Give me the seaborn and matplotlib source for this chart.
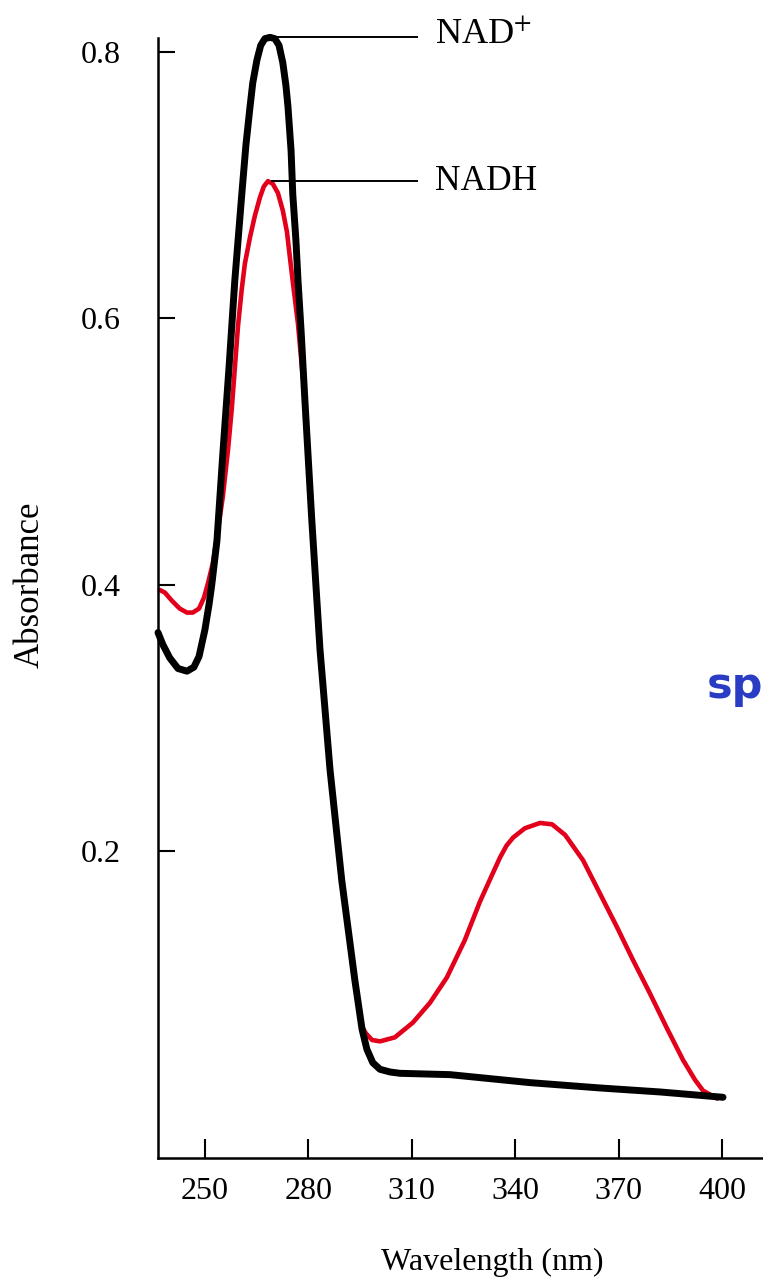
import numpy as np
import pandas as pd
import matplotlib
matplotlib.use('Agg')
import matplotlib.pyplot as plt
import seaborn as sns

# NAD+ absorbance spectrum
nad_wl = [236.4, 237.8, 239.8, 242.2, 244.8, 246.8, 248.3, 250.0, 251.2, 252.0, 253.5,
          255.2, 257.0, 258.7, 260.7, 261.9, 263.1, 263.9, 265.1, 266.2, 267.4, 268.9,
          270.3, 271.5, 272.6, 273.5, 274.1, 275.0, 275.5, 276.4, 277.0, 277.9, 279.0,
          281.0, 283.4, 286.3, 289.7, 293.5, 295.6, 297.0, 298.7, 300.8, 303.7, 306.6,
          321.1, 344.3, 364.6, 382.0, 400.3]
nad_abs = [0.364, 0.355, 0.345, 0.337, 0.335, 0.338, 0.346, 0.366, 0.385, 0.400, 0.433,
           0.498, 0.563, 0.629, 0.693, 0.730, 0.759, 0.777, 0.794, 0.805, 0.810, 0.811,
           0.810, 0.805, 0.792, 0.775, 0.759, 0.726, 0.693, 0.659, 0.629, 0.591, 0.539,
           0.449, 0.351, 0.261, 0.178, 0.103, 0.066, 0.051, 0.041, 0.036, 0.034, 0.033,
           0.032, 0.026, 0.022, 0.019, 0.015]

# NADH absorbance spectrum
nadh_wl = [236.9, 238.4, 240.4, 242.7, 244.8, 246.5, 248.3, 249.7, 250.9, 252.3, 253.8,
           255.2, 256.7, 257.8, 259.6, 260.7, 261.6, 263.1, 264.5, 266.0, 267.1, 268.3,
           269.7, 271.2, 272.6, 273.8, 274.7, 275.8, 277.0, 279.0, 281.0, 283.4, 286.3,
           289.7, 293.5, 295.6, 296.7, 298.5, 300.8, 305.1, 310.3, 315.3, 320.2, 325.4,
           329.8, 333.3, 335.6, 337.5, 339.4, 342.8, 347.2, 350.7, 354.5, 359.7, 364.6,
           369.5, 374.2, 379.1, 384.0, 388.7, 392.2, 394.5, 398.6]
nadh_abs = [0.396, 0.394, 0.388, 0.382, 0.379, 0.379, 0.382, 0.390, 0.401, 0.416, 0.441,
            0.466, 0.501, 0.532, 0.594, 0.622, 0.641, 0.661, 0.677, 0.691, 0.699, 0.703,
            0.701, 0.694, 0.681, 0.665, 0.645, 0.621, 0.596, 0.539, 0.449, 0.351, 0.261,
            0.178, 0.103, 0.068, 0.063, 0.058, 0.057, 0.060, 0.071, 0.086, 0.105, 0.133,
            0.162, 0.182, 0.195, 0.204, 0.210, 0.217, 0.221, 0.220, 0.212, 0.193, 0.168,
            0.143, 0.118, 0.093, 0.067, 0.043, 0.028, 0.020, 0.014]

x_ticks = [250, 280, 310, 340, 370, 400]
y_ticks = [0.2, 0.4, 0.6, 0.8]

sns.set_theme(style='ticks')
plt.rcParams['font.family'] = ['Liberation Serif', 'DejaVu Serif']
plt.rcParams['mathtext.fontset'] = 'stix'
plt.rcParams['text.color'] = 'black'
plt.rcParams['axes.labelcolor'] = 'black'

fig = plt.figure(figsize=(7.63, 12.83), dpi=100)
ax = fig.add_axes([158 / 763, 125 / 1283, 605 / 763, 1120 / 1283])

nad = pd.DataFrame({'wl': nad_wl, 'abs': nad_abs})
nadh = pd.DataFrame({'wl': nadh_wl, 'abs': nadh_abs})

sns.lineplot(data=nadh, x='wl', y='abs', ax=ax, color='#e3001b', linewidth=3.3,
             sort=False, estimator=None)
sns.lineplot(data=nad, x='wl', y='abs', ax=ax, color='black', linewidth=5.0,
             sort=False, estimator=None)
for ln in ax.lines:
    ln.set_clip_on(False)
    ln.set_solid_joinstyle('round')
    ln.set_solid_capstyle('round')

ax.set_xlim(236.4, 411.9)
ax.set_ylim(-0.0306, 0.8105)
ax.set_xticks(x_ticks)
ax.set_yticks(y_ticks)
ax.set_yticklabels([f'{v:.1f}' for v in y_ticks])

sns.despine(ax=ax)
for s in ['left', 'bottom']:
    ax.spines[s].set_linewidth(1.8)
    ax.spines[s].set_color('black')
ax.tick_params(axis='x', direction='in', length=14, width=1.5, pad=14, labelsize=23,
               colors='black')
ax.tick_params(axis='y', direction='in', length=12, width=1.5, pad=27, labelsize=23,
               colors='black')

ax.set_xlabel('Wavelength (nm)', fontsize=23)
ax.set_ylabel('Absorbance', fontsize=25)
ax.xaxis.set_label_coords(0.552, -0.093)
ax.yaxis.set_label_coords(-0.2116, 0.512)
ax.xaxis.label.set_va('center')
ax.yaxis.label.set_va('center')

# peak labels
lab_x0 = 311.8
lab_x1 = 316.7
i1 = int(np.argmax(nad_abs))
i2 = int(np.argmax(nadh_abs))
ax.hlines(nad_abs[i1], nad_wl[i1], lab_x0, color='black', linewidth=1.4, clip_on=False)
ax.hlines(nadh_abs[i2], nadh_wl[i2] + 1.0, lab_x0, color='black', linewidth=1.4, clip_on=False)
ax.text(lab_x1, nad_abs[i1] + 0.002, 'NAD$^{+}$', fontsize=26, va='center', ha='left')
ax.text(lab_x1, nadh_abs[i2], 'NADH', fontsize=25.5, va='center', ha='left')

fig.text(707 / 763, 1 - 686 / 1283, 'sp', fontsize=31, fontweight='bold', color='#2a3cc4',
         family='DejaVu Sans', va='center', ha='left')

fig.savefig('out.png', dpi=100, facecolor='white')
